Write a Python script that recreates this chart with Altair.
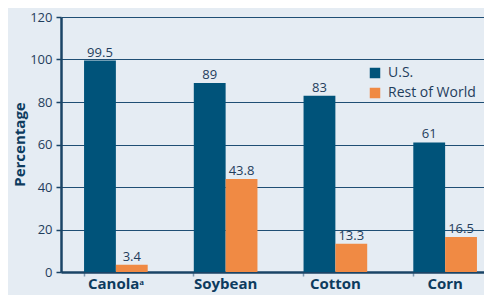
import altair as alt
import pandas as pd

crops = ["Canolaᵃ", "Soybean", "Cotton", "Corn"]
series = ["U.S.", "Rest of World"]
us_values = [99.5, 89, 83, 61]
row_values = [3.4, 43.8, 13.3, 16.5]
labels_us = ["99.5", "89", "83", "61"]
labels_row = ["3.4", "43.8", "13.3", "16.5"]

rows = []
for c, v, l in zip(crops, us_values, labels_us):
    rows.append({"crop": c, "series": "U.S.", "value": v, "label": l})
for c, v, l in zip(crops, row_values, labels_row):
    rows.append({"crop": c, "series": "Rest of World", "value": v, "label": l})
df = pd.DataFrame(rows)

FONT = "Open Sans"
TXT = "#1f3d5c"
colors = ["#00537a", "#f08a44"]

x = alt.X("crop:N", sort=crops, title=None,
          scale=alt.Scale(paddingInner=0.42, paddingOuter=0.21, range=[0, 439]),
          axis=alt.Axis(labelAngle=0, labelFont=FONT, labelFontSize=15, labelFontWeight="bold",
                        labelColor="#0d3b5e", domainColor="#1a4466", domainWidth=2.5,
                        tickColor="#7f9bb3", tickSize=4, tickWidth=1.5, bandPosition=0,
                        labelPadding=0, labelBaseline="top", grid=False))
xo = alt.XOffset("series:N", sort=series, scale=alt.Scale(paddingInner=0))
y = alt.Y("value:Q", title="Percentage",
          scale=alt.Scale(domain=[0, 120], nice=False),
          axis=alt.Axis(values=[0, 20, 40, 60, 80, 100, 120], labelFont=FONT, labelFontSize=13,
                        labelColor=TXT, titleFont=FONT, titleFontSize=15, titleFontWeight="bold",
                        titleColor="#0d3b5e", titleAngle=270, titleX=-42, titleY=127,
                        titleBaseline="middle", titleAlign="center",
                        domainColor="#1a4466", domainWidth=2.5, tickColor="#1a4466",
                        tickSize=5, tickWidth=1.5, labelPadding=4,
                        gridColor="#1f4e74", gridWidth=1.2))

base = alt.Chart(df)
bars = base.mark_bar().encode(
    x=x, xOffset=xo, y=y,
    color=alt.Color("series:N", sort=series, scale=alt.Scale(domain=series, range=colors),
                    legend=alt.Legend(title=None, orient="none", legendX=307, legendY=49,
                                      symbolType="square", symbolSize=110, symbolStrokeWidth=0,
                                      labelFont=FONT, labelFontSize=14, labelColor=TXT,
                                      rowPadding=6, labelOffset=6)))
text = base.mark_text(dy=-8, font=FONT, fontSize=13, color=TXT).encode(
    x=alt.X("crop:N", sort=crops), xOffset=xo, y="value:Q", text="label:N")

chart = (bars + text).properties(
    width=423, height=255, background="#e5ecf3",
    autosize=alt.AutoSizeParams(type="none"),
    padding={"left": 53, "top": 9, "right": 0, "bottom": 23},
).configure_view(stroke=None)

chart.save("out.html", embed_options={"renderer": "svg", "actions": False})
